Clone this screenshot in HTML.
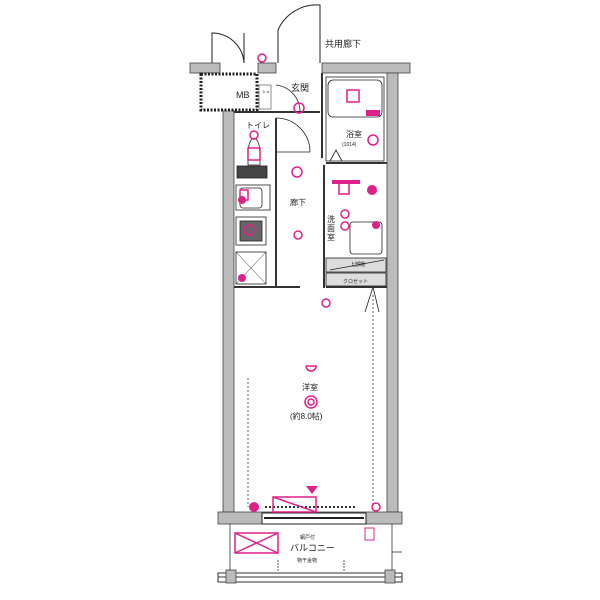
<!DOCTYPE html>
<html><head><meta charset="utf-8"><style>html,body{margin:0;padding:0;background:#fff}svg{display:block}text{font-family:"Liberation Sans","Noto Sans CJK JP",sans-serif;fill:#222}</style></head><body>
<svg width="600" height="600" viewBox="0 0 600 600" xmlns="http://www.w3.org/2000/svg">
<g fill="none" stroke="#222" stroke-width="1">
<!-- entrance doors -->
<path d="M212 63 V33 A32 32 0 0 1 244 63" />
<line x1="244" y1="33" x2="244" y2="63"/>
<path d="M278 63 V30 A42 42 0 0 1 320 5 V63"/>
</g>
<!-- top wall -->
<rect x="190" y="63" width="30" height="10" fill="#bbb" stroke="#444" stroke-width="0.8"/>
<rect x="258" y="63" width="18" height="10" fill="#bbb" stroke="#444" stroke-width="0.8"/>
<rect x="322" y="63" width="88" height="10" fill="#bbb" stroke="#444" stroke-width="0.8"/>
<!-- outer side walls -->
<rect x="223" y="108" width="11" height="404" fill="#bbb" stroke="#444" stroke-width="0.8"/>
<rect x="387" y="73" width="11" height="439" fill="#bbb" stroke="#444" stroke-width="0.8"/>
<!-- MB -->
<rect x="201" y="74" width="56" height="36" fill="#fff" stroke="#222" stroke-width="3" stroke-dasharray="2 1.5"/>
<text x="236" y="98" font-size="9">MB</text>
<rect x="259" y="85" width="12" height="24" fill="#fff" stroke="#444" stroke-width="0.6"/>
<text x="262" y="93" font-size="4">シュ</text>
<!-- inner walls -->
<g stroke="#333" stroke-width="2" fill="none">
<line x1="322" y1="73" x2="322" y2="158"/>
<line x1="324" y1="165" x2="324" y2="288"/>
<line x1="234" y1="112" x2="320" y2="112"/>
<line x1="276" y1="118" x2="276" y2="288"/>
<line x1="234" y1="287" x2="300" y2="287"/>
<line x1="326" y1="287" x2="387" y2="287"/>
<line x1="326" y1="163" x2="387" y2="163"/>
</g>
<g fill="none" stroke="#222" stroke-width="0.8">
<path d="M276 85 A27 27 0 0 1 300 112"/>
<path d="M276 118 A34 34 0 0 1 310 152 L276 152"/>
<!-- bath -->
<rect x="328" y="80" width="54" height="37" rx="5"/>
<rect x="326" y="77" width="58" height="84"/>
<path d="M330 161 L336 150 L342 161"/>
<!-- toilet -->
<path d="M248 155 Q248 140 254 138 Q260 140 260 155 V165 H248 Z"/>
<rect x="237" y="166" width="30" height="12" fill="#444"/>
<!-- kitchen -->
<rect x="236" y="185" width="34" height="25"/>
<rect x="240" y="188" width="22" height="20" rx="3"/>
<rect x="236" y="217" width="30" height="28"/>
<rect x="240" y="221" width="22" height="20" fill="#666" stroke="#222"/>
<rect x="236" y="252" width="30" height="32"/>
<path d="M236 252 L266 284 M266 252 L236 284" stroke-width="0.5"/>
<!-- washroom -->
<rect x="350" y="222" width="32" height="32" rx="3"/>
<rect x="326" y="258" width="60" height="14" fill="#ddd"/>
<rect x="326" y="273" width="60" height="13" fill="#ddd"/>
<line x1="330" y1="270" x2="384" y2="260"/>
<line x1="373" y1="287" x2="365" y2="312"/>
<line x1="373" y1="287" x2="379" y2="312"/>
</g>
<!-- dashed lines room -->
<g stroke="#333" stroke-width="0.8" stroke-dasharray="2 2">
<line x1="248" y1="378" x2="248" y2="507"/>
<line x1="373" y1="295" x2="373" y2="507"/>
<line x1="265" y1="507" x2="356" y2="507" stroke-width="2"/>
</g>
<!-- bottom wall -->
<rect x="218" y="512" width="184" height="12" fill="#bbb" stroke="#444" stroke-width="0.8"/>
<rect x="262" y="513" width="104" height="11" fill="#fff" stroke="#222" stroke-width="1"/>
<line x1="264" y1="518" x2="364" y2="518" stroke="#222" stroke-width="2"/>
<!-- balcony -->
<g stroke="#333" stroke-width="0.8" fill="none">
<line x1="230" y1="524" x2="230" y2="572"/>
<line x1="392" y1="524" x2="392" y2="572"/>
<line x1="278" y1="560" x2="278" y2="572" stroke-dasharray="2 1"/>
<line x1="344" y1="560" x2="344" y2="572" stroke-dasharray="2 1"/>
<line x1="392" y1="552" x2="402" y2="552"/>
</g>
<rect x="218" y="573" width="184" height="9" fill="#fff" stroke="#333" stroke-width="1"/>
<line x1="218" y1="577" x2="402" y2="577" stroke="#333" stroke-width="1"/>
<rect x="226" y="570" width="10" height="13" fill="#bbb" stroke="#444" stroke-width="0.8"/>
<rect x="385" y="570" width="10" height="13" fill="#bbb" stroke="#444" stroke-width="0.8"/>
<!-- magenta -->
<g stroke="#e0208a" stroke-width="1.5" fill="none">
<circle cx="262" cy="58" r="4"/>
<circle cx="299" cy="108" r="5"/>
<rect x="347" y="90" width="12" height="12"/>
<circle cx="373" cy="140" r="5"/>
<circle cx="254" cy="135" r="4"/>
<rect x="248" y="148" width="12" height="12"/>
<circle cx="297" cy="172" r="5"/>
<rect x="240" y="190" width="8" height="10"/>
<circle cx="249" cy="230" r="5"/>
<circle cx="298" cy="235" r="4"/>
<circle cx="345" cy="214" r="4"/>
<circle cx="345" cy="226" r="4"/>
<rect x="339" y="182" width="10" height="12"/>
<circle cx="326" cy="303" r="4"/>
<circle cx="311" cy="402" r="6"/>
<circle cx="311" cy="402" r="3"/>
<path d="M306 366 H316 A5 5 0 0 1 306 366"/>
<rect x="273" y="497" width="43" height="15"/>
<line x1="273" y1="497" x2="316" y2="512"/>
<circle cx="376" cy="507" r="4"/>
<rect x="235" y="533" width="43" height="20"/>
<path d="M235 533 L278 553 M278 533 L235 553"/>
<rect x="365" y="528" width="9" height="12" stroke-width="1"/>
</g>
<g fill="#e0208a">
<rect x="366" y="110" width="14" height="6"/>
<rect x="332" y="180" width="28" height="4"/>
<circle cx="372" cy="190" r="5"/>
<circle cx="242" cy="200" r="4"/>
<circle cx="376" cy="225" r="4"/>
<circle cx="242" cy="278" r="4"/>
<circle cx="254" cy="507" r="5"/>
<path d="M306 486 H318 L312 494 Z"/>
</g>
<!-- labels -->
<text x="325" y="47" font-size="9">共用廊下</text>
<text x="291" y="91" font-size="9">玄関</text>
<text x="246" y="128" font-size="8">トイレ</text>
<text x="346" y="137" font-size="8">浴室</text>
<text x="342" y="146" font-size="5">(1014)</text>
<text x="290" y="205" font-size="8">廊下</text>
<text x="327" y="222" font-size="8">洗</text>
<text x="327" y="231" font-size="8">面</text>
<text x="327" y="240" font-size="8">室</text>
<text x="343" y="283" font-size="5">クロゼット</text>
<text x="350" y="266" font-size="5">上部棚</text>
<text x="302" y="390" font-size="8">洋室</text>
<text x="290" y="419" font-size="8">(約8.0帖)</text>
<text x="300" y="539" font-size="5">網戸付</text>
<text x="290" y="551" font-size="9">バルコニー</text>
<text x="297" y="562" font-size="5">物干金物</text>
</svg>
</body></html>
